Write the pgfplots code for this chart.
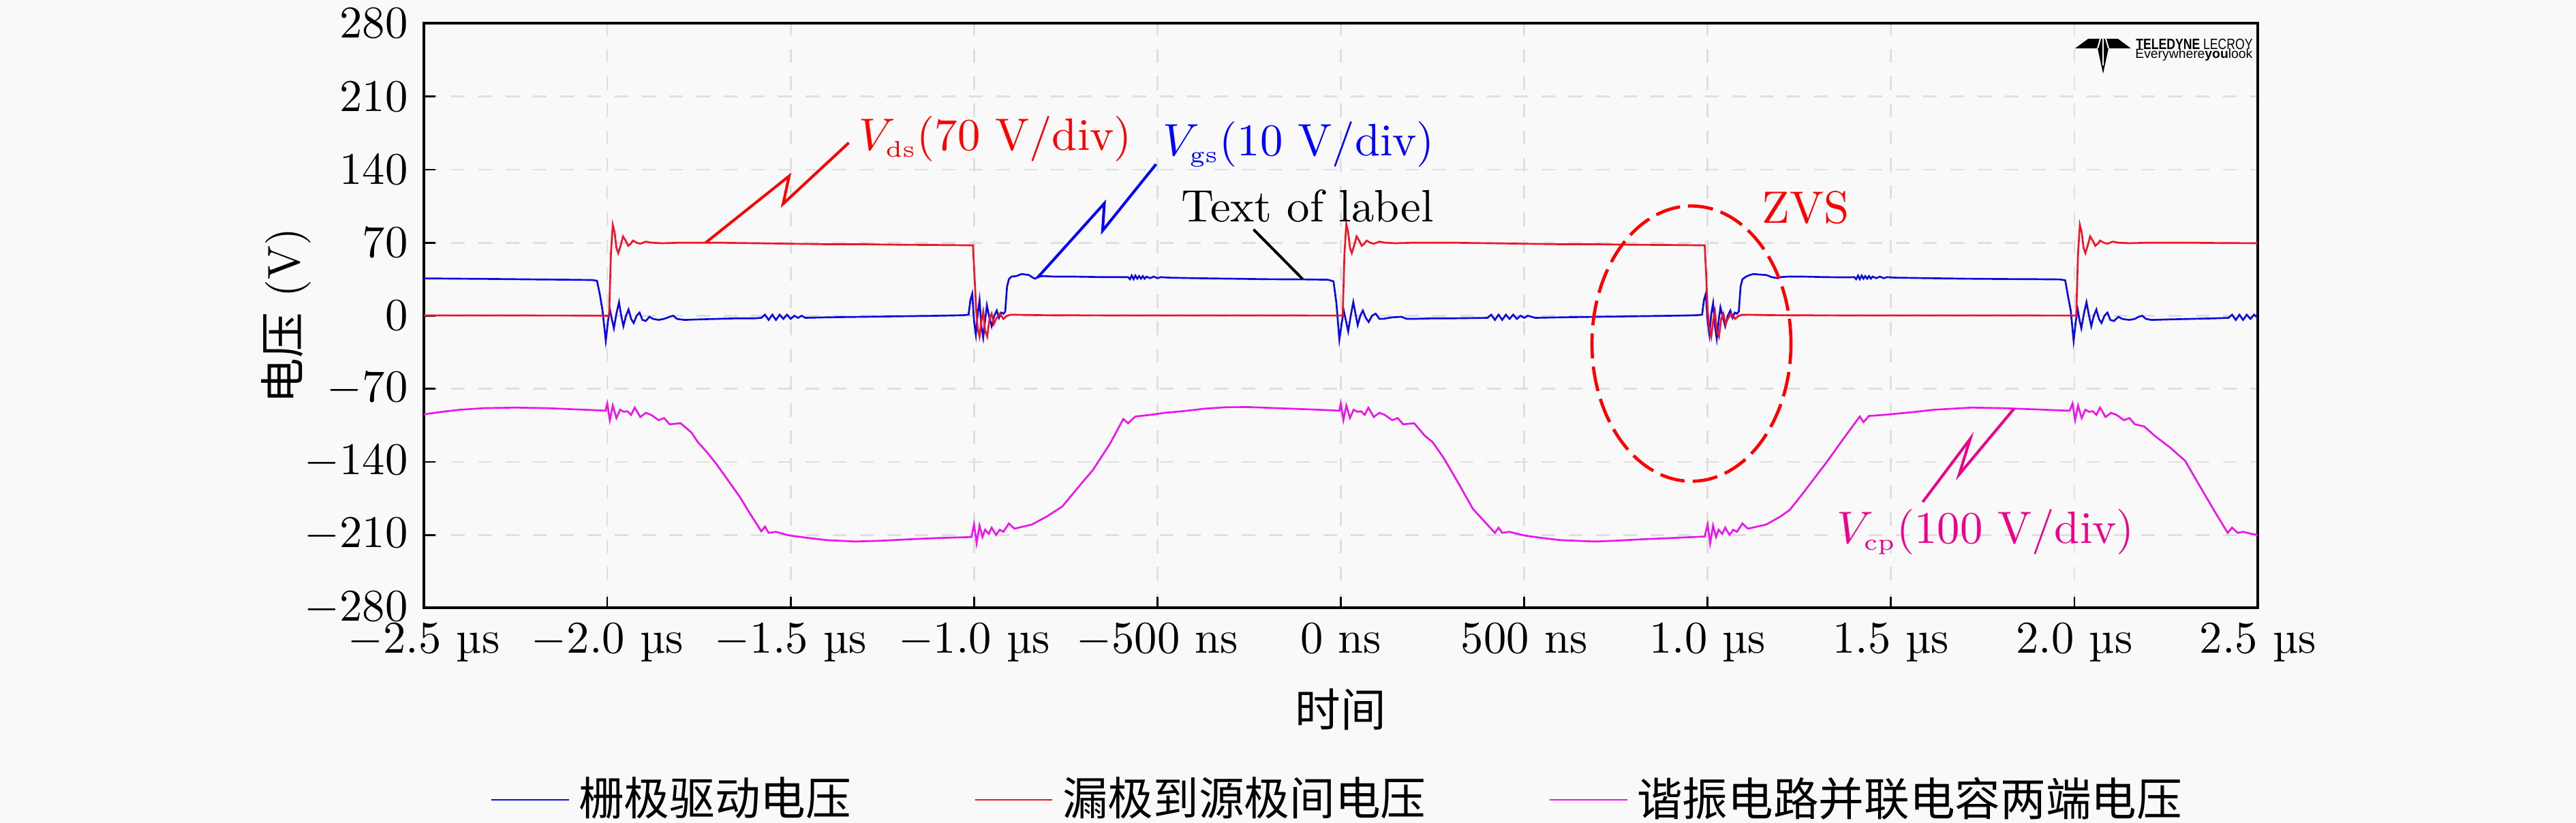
\documentclass[border=0pt]{standalone}
\usepackage{fontspec}
\usepackage{pgfplots}
\pgfplotsset{compat=1.18}
\newfontfamily\cjk{Noto Sans CJK SC}
\newfontfamily\logofont{Liberation Sans}
\definecolor{bg}{RGB}{249,249,249}
\definecolor{vgs}{RGB}{10,10,225}
\definecolor{vds}{RGB}{240,20,40}
\definecolor{vcp}{RGB}{235,20,235}
\begin{document}
\begin{tikzpicture}
\path[use as bounding box, fill=bg] (0,0) rectangle (567pt,181.2pt);
\begin{axis}[
  at={(93.3pt,47.33pt)}, anchor=south west,
  width=403.65pt, height=128.7pt, scale only axis,
  xmin=-2.5, xmax=2.5, ymin=-280, ymax=280,
  xtick={-2.5,-2,-1.5,-1,-0.5,0,0.5,1,1.5,2,2.5},
  xticklabels={$-2.5$ µs,$-2.0$ µs,$-1.5$ µs,$-1.0$ µs,$-500$ ns,$0$ ns,$500$ ns,$1.0$ µs,$1.5$ µs,$2.0$ µs,$2.5$ µs},
  ytick={-280,-210,-140,-70,0,70,140,210,280},
  tick align=inside, tick pos=left,
  major tick length=2.5pt,
  axis line style={line width=0.6pt},
  tick style={black, line width=0.4pt},
  grid=major,
  grid style={dashed, gray!25, line width=0.4pt},
  xlabel={\cjk 时间},
  ylabel={{\cjk 电压} (V)},
  xlabel style={at={(axis description cs:0.5,-0.174)}, anchor=center},
  ylabel style={at={(axis description cs:-0.075,0.5)}, anchor=center},
  legend style={draw=none, fill=none, at={(0.5,-0.328)}, anchor=center,
    legend columns=3, /tikz/every even column/.append style={column sep=25pt}},
  every axis plot/.append style={line width=0.4pt},
]
\addplot[vgs] coordinates {
(-2.5,35.8) (-2.4,35.5) (-2.3,35.2) (-2.2,34.8) (-2.1,34.5) (-2.04,34.2) (-2.028,33.5) (-2.02,20) (-2.013,5) (-2.004,-24) (-1.998,-5) (-1.993,6) (-1.987,-4) (-1.982,-12) (-1.975,2) (-1.968,13) (-1.962,0) (-1.956,-10) (-1.949,0) (-1.942,6) (-1.935,-3) (-1.928,-7) (-1.92,0) (-1.912,3) (-1.904,-4) (-1.895,-5) (-1.885,-1) (-1.875,-3) (-1.86,-4) (-1.845,-3) (-1.83,-1) (-1.82,0) (-1.81,-3) (-1.79,-4) (-1.75,-3.5) (-1.7,-3) (-1.65,-2.5) (-1.6,-2.5)
(-1.58,-2) (-1.57,1) (-1.56,-4) (-1.55,1) (-1.54,-4) (-1.53,1) (-1.52,-3) (-1.51,1) (-1.50,-3) (-1.49,0) (-1.48,-2) (-1.47,0) (-1.46,-2)
(-1.4,-1.5) (-1.3,-1) (-1.2,-0.5) (-1.1,0) (-1.03,0.5) (-1.015,1) (-1.010,15) (-1.005,21) (-1.0,-5) (-0.995,-18) (-0.99,2) (-0.985,15) (-0.98,-10) (-0.975,-21) (-0.97,-5) (-0.965,10) (-0.958,-2) (-0.952,-10) (-0.945,0) (-0.938,5) (-0.932,-2) (-0.926,3) (-0.92,2) (-0.915,4) (-0.91,28) (-0.905,35) (-0.898,37.5) (-0.885,38) (-0.87,40) (-0.86,39.5) (-0.85,39) (-0.84,36.5) (-0.833,35.5) (-0.825,37.5) (-0.81,38) (-0.78,37.5) (-0.73,37.5) (-0.65,37) (-0.6,37)
(-0.58,37) (-0.575,35) (-0.57,38.5) (-0.565,35) (-0.56,38.5) (-0.555,35.5) (-0.55,38) (-0.545,35.5) (-0.54,38) (-0.535,35.5) (-0.53,37.5) (-0.52,36) (-0.51,37.5) (-0.50,36) (-0.49,37) (-0.47,36.5)
(-0.4,36) (-0.3,35.5) (-0.2,35) (-0.1,34.8) (-0.035,34.5) (-0.02,33) (-0.012,12) (-0.004,-23) (0.002,-8) (0.008,5) (0.014,-5) (0.02,-15) (0.027,0) (0.034,13) (0.04,2) (0.046,-9) (0.053,0) (0.06,5) (0.068,-2) (0.076,-6) (0.085,0) (0.095,2) (0.105,-3) (0.115,-3) (0.14,-1.5) (0.165,-1) (0.18,-3) (0.2,-3) (0.25,-2.5) (0.3,-2.5)
(0.40,-2) (0.41,1) (0.42,-4) (0.43,1) (0.44,-4) (0.45,1) (0.46,-3) (0.47,1) (0.48,-3) (0.49,0) (0.50,-2) (0.51,0) (0.53,-2)
(0.6,-1.5) (0.7,-1) (0.8,-0.5) (0.9,0) (0.97,0.5) (0.985,1) (0.99,15) (0.995,21) (1.0,-5) (1.005,-18) (1.01,2) (1.015,12) (1.02,-10) (1.025,-22) (1.03,-5) (1.035,8) (1.042,-2) (1.048,-10) (1.055,0) (1.062,5) (1.068,-2) (1.074,3) (1.08,2) (1.085,4) (1.09,28) (1.095,35) (1.105,37.5) (1.115,39) (1.125,40) (1.14,39.5) (1.16,39) (1.175,37) (1.19,36) (1.2,37) (1.22,37.5) (1.26,37.5) (1.32,37) (1.38,36.8)
(1.40,37) (1.405,35) (1.41,38.5) (1.415,35) (1.42,38.5) (1.425,35.5) (1.43,38) (1.435,35.5) (1.44,38) (1.445,35.5) (1.45,37.5) (1.46,36) (1.47,37.5) (1.48,36) (1.49,37) (1.51,36.5)
(1.6,36) (1.7,35.5) (1.8,35.2) (1.9,35) (1.96,34.8) (1.975,34) (1.982,20) (1.99,5) (1.998,-24) (2.004,-5) (2.009,6) (2.014,-4) (2.019,-12) (2.026,2) (2.033,13) (2.04,0) (2.046,-10) (2.053,0) (2.06,6) (2.067,-3) (2.074,-7) (2.082,0) (2.09,3) (2.098,-4) (2.108,-5) (2.12,-1) (2.13,-3) (2.15,-4) (2.165,-3) (2.175,-1) (2.185,0) (2.195,-3) (2.21,-4) (2.26,-3.5) (2.32,-3) (2.38,-2.5)
(2.42,-2) (2.43,1) (2.44,-4) (2.45,1) (2.46,-4) (2.47,1) (2.48,-3) (2.49,1) (2.5,-2)
};
\addlegendentry{\cjk 栅极驱动电压}
\addplot[vds] coordinates {
(-2.5,0.3) (-2.3,0.3) (-2.1,0.2) (-1.995,0) (-1.99,60) (-1.985,87) (-1.98,80) (-1.975,65) (-1.97,60) (-1.963,68) (-1.957,76) (-1.95,72) (-1.943,67) (-1.936,69) (-1.93,72) (-1.92,70) (-1.91,69) (-1.895,71) (-1.88,70) (-1.85,69.5) (-1.8,70) (-1.7,70) (-1.6,69.5) (-1.5,69) (-1.4,68.5) (-1.3,68.5) (-1.2,68) (-1.1,67.8) (-1.01,67.5) (-1.003,67.5) (-0.999,40) (-0.994,5) (-0.99,-12) (-0.985,-20) (-0.98,-5) (-0.975,4) (-0.97,-14) (-0.964,-20) (-0.958,-3) (-0.952,2) (-0.946,-8) (-0.94,-3) (-0.93,2) (-0.92,-3) (-0.91,0) (-0.9,1) (-0.8,0.5) (-0.6,0.3) (-0.4,0.3) (-0.2,0.3) (0.0,0.2)
(0.005,0) (0.01,60) (0.015,88) (0.02,80) (0.025,65) (0.03,60) (0.037,68) (0.043,76) (0.05,72) (0.057,67) (0.064,69) (0.07,72) (0.08,70) (0.09,69) (0.105,71) (0.12,70) (0.15,69.5) (0.2,70) (0.3,70) (0.4,69.5) (0.5,69) (0.6,68.5) (0.7,68.5) (0.8,68) (0.9,67.8) (0.985,67.5) (0.992,67.5) (0.996,40) (1.0,5) (1.005,-12) (1.01,-20) (1.015,-5) (1.02,4) (1.025,-14) (1.031,-20) (1.037,-3) (1.043,2) (1.049,-8) (1.055,-3) (1.065,2) (1.075,-3) (1.085,0) (1.095,1) (1.2,0.5) (1.4,0.3) (1.6,0.3) (1.8,0.3) (2.0,0.2)
(2.005,0) (2.01,60) (2.015,87) (2.02,80) (2.025,65) (2.03,60) (2.037,68) (2.043,76) (2.05,72) (2.057,67) (2.064,69) (2.07,72) (2.08,70) (2.09,69) (2.105,71) (2.12,70) (2.15,69.5) (2.2,70) (2.3,70) (2.4,69.7) (2.5,69.5)
};
\addlegendentry{\cjk 漏极到源极间电压}
\addplot[vcp] coordinates {
(-2.5,-94.5) (-2.45,-92) (-2.4,-90) (-2.334,-88.5) (-2.25,-88) (-2.168,-88.5) (-2.1,-89.5) (-2.03,-90.5) (-2.005,-91)
(-2.0,-84) (-1.993,-100) (-1.985,-86) (-1.975,-98) (-1.965,-90) (-1.955,-92) (-1.945,-91.5) (-1.935,-95) (-1.925,-88) (-1.91,-97) (-1.895,-93) (-1.88,-95)
(-1.86,-100) (-1.845,-98) (-1.83,-104) (-1.8,-103) (-1.77,-112) (-1.754,-120.6) (-1.73,-130) (-1.704,-141.3) (-1.67,-158) (-1.638,-173.9) (-1.61,-190) (-1.58,-206.5) (-1.57,-202) (-1.56,-208) (-1.54,-207) (-1.505,-210.4) (-1.45,-213) (-1.4,-215) (-1.323,-216.3) (-1.25,-215.5) (-1.173,-214.1) (-1.1,-213) (-1.007,-212)
(-1.0,-200) (-0.993,-218) (-0.985,-201) (-0.977,-212) (-0.97,-205) (-0.96,-209) (-0.952,-203) (-0.94,-210) (-0.93,-205) (-0.92,-207) (-0.905,-199) (-0.89,-204)
(-0.842,-200) (-0.8,-192) (-0.759,-182.6) (-0.72,-166) (-0.676,-147.8) (-0.63,-123) (-0.593,-98.9) (-0.58,-103) (-0.56,-96.5) (-0.52,-95) (-0.48,-93) (-0.427,-91.3) (-0.37,-89) (-0.311,-87.6) (-0.25,-87.5) (-0.178,-88.5) (-0.1,-89.5) (-0.03,-90.5) (-0.004,-91)
(0.0,-84) (0.007,-100) (0.015,-86) (0.025,-98) (0.035,-90) (0.045,-92) (0.055,-91.5) (0.065,-95) (0.075,-88) (0.09,-97) (0.105,-93) (0.12,-95)
(0.14,-100) (0.155,-98) (0.17,-104) (0.2,-103) (0.229,-115) (0.25,-121) (0.28,-136) (0.32,-160) (0.36,-185) (0.42,-208) (0.43,-203) (0.44,-208) (0.46,-207) (0.5,-210.5) (0.55,-213) (0.6,-215) (0.693,-216.3) (0.75,-215.5) (0.83,-214) (0.9,-213) (0.992,-211.5)
(1.0,-200) (1.007,-218) (1.015,-201) (1.023,-212) (1.03,-205) (1.04,-209) (1.048,-203) (1.06,-210) (1.07,-205) (1.08,-207) (1.095,-199) (1.11,-204)
(1.16,-200) (1.2,-192) (1.224,-186) (1.26,-170) (1.323,-141) (1.37,-118) (1.415,-96.5) (1.425,-102) (1.44,-96) (1.48,-95) (1.555,-92.5) (1.62,-90) (1.72,-88) (1.8,-88.5) (1.88,-89.5) (1.95,-90.5) (1.987,-91)
(1.995,-84) (2.002,-100) (2.01,-86) (2.02,-98) (2.03,-90) (2.04,-92) (2.05,-91.5) (2.06,-95) (2.07,-88) (2.085,-97) (2.1,-93) (2.115,-95)
(2.135,-100) (2.15,-98) (2.165,-104) (2.19,-106) (2.219,-115) (2.26,-126) (2.302,-139) (2.34,-162) (2.38,-186) (2.418,-208) (2.43,-203) (2.445,-208) (2.46,-207) (2.484,-209) (2.5,-210)
};
\addlegendentry{\cjk 谐振电路并联电容两端电压}
% annotations
\draw[red, line width=0.6pt] (axis cs:-1.731,70.2) -- (axis cs:-1.504,133.9) -- (axis cs:-1.5206,107.2) -- (axis cs:-1.3415,165.7);
\node[red, anchor=base west, inner sep=0pt] at (axis cs:-1.3164,158.3) {$V_{\scriptscriptstyle\mathrm{ds}}$(70 V/div)};
\draw[blue, line width=0.6pt] (axis cs:-0.827,36.5) -- (axis cs:-0.6447,107.7) -- (axis cs:-0.6496,81.5) -- (axis cs:-0.5037,145.2);
\node[blue, anchor=base west, inner sep=0pt] at (axis cs:-0.487,153.1) {$V_{\scriptscriptstyle\mathrm{gs}}$(10 V/div)};
\draw[black, line width=0.6pt] (axis cs:-0.238,82.7) -- (axis cs:-0.104,35.1);
\node[black, anchor=base west, inner sep=0pt] at (axis cs:-0.4376,90.2) {Text of label};
\node[red, anchor=base west, inner sep=0pt] at (axis cs:1.1455,89) {ZVS};
\draw[red, line width=0.7pt, dash pattern=on 5.5pt off 1.8pt] (axis cs:0.956,-26.7) ellipse [x radius=21.9pt, y radius=30.3pt];
\draw[magenta, line width=0.6pt] (axis cs:1.8356,-89.0) -- (axis cs:1.686,-152.0) -- (axis cs:1.716,-117.9) -- (axis cs:1.5866,-178.4);
\node[magenta, anchor=base west, inner sep=0pt] at (axis cs:1.351,-217.9) {$V_{\scriptscriptstyle\mathrm{cp}}$(100 V/div)};
% logo
\fill[black] (axis cs:2.0021,256.2) -- (axis cs:2.0374,265.3) -- (axis cs:2.1188,265.3) -- (axis cs:2.1539,256.2) -- (axis cs:2.0931,256.2) -- (axis cs:2.0782,231.9) -- (axis cs:2.0634,256.2) -- cycle;
\draw[bg, line width=0.3pt] (axis cs:2.0708,265.3) -- (axis cs:2.0634,256.2) (axis cs:2.0857,265.3) -- (axis cs:2.0931,256.2) (axis cs:2.0782,265.3) -- (axis cs:2.0782,240);
\node[anchor=east, inner sep=0pt, xscale=0.8, font=\logofont\fontsize{3.3}{4}\selectfont] at (axis cs:2.4881,260.2) {\textbf{TELEDYNE} LECROY};
\node[anchor=east, inner sep=0pt, font=\logofont\fontsize{2.9}{3.5}\selectfont] at (axis cs:2.4881,249.7) {Everywhere\textbf{you}look};
\end{axis}
\end{tikzpicture}
\end{document}
